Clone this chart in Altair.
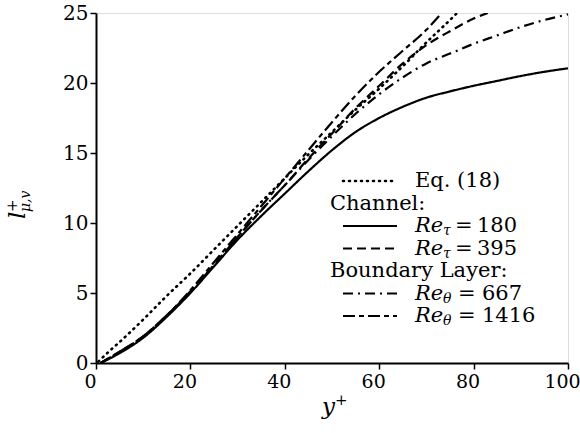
import altair as alt
import pandas as pd

# ---- data ----
eq18_x = [0.5, 3, 5, 10, 15, 20, 25, 30, 35, 40, 45, 50, 55, 60, 65, 70, 75, 76.5]
eq18_y = [0.1, 0.9, 1.5, 3.1, 4.8, 6.4, 8.1, 9.8, 11.5, 13.2, 14.9, 16.5, 18.1, 19.6, 21.2, 22.9, 24.5, 25.0]

re180_x = [1, 5, 10, 15, 20, 25, 30, 35, 40, 45, 50, 55, 60, 65, 70, 75, 80, 85, 90, 95, 100]
re180_y = [0, 0.7, 1.8, 3.3, 5.0, 6.9, 8.8, 10.5, 12.1, 13.7, 15.2, 16.5, 17.5, 18.3, 18.95, 19.4, 19.8, 20.15, 20.5, 20.8, 21.05]

re395_x = [1, 5, 10, 15, 20, 25, 30, 35, 40, 45, 50, 55, 60, 65, 70, 75, 80, 83]
re395_y = [0, 0.8, 1.9, 3.4, 5.1, 7.0, 9.0, 10.9, 12.7, 14.6, 16.4, 18.2, 19.8, 21.4, 22.7, 23.7, 24.6, 25.0]

re667_x = [1, 5, 10, 15, 20, 25, 30, 35, 40, 45, 50, 55, 60, 65, 70, 75, 80, 85, 90, 95, 100]
re667_y = [0, 0.8, 1.9, 3.4, 5.1, 7.0, 9.0, 10.9, 12.7, 14.5, 16.2, 17.8, 19.2, 20.4, 21.4, 22.1, 22.8, 23.4, 24.0, 24.5, 24.9]

re1416_x = [1, 5, 10, 15, 20, 25, 30, 35, 40, 45, 50, 55, 60, 65, 70, 73]
re1416_y = [0, 0.8, 1.9, 3.4, 5.2, 7.2, 9.2, 11.2, 13.2, 15.2, 17.2, 19.1, 20.8, 22.3, 23.8, 24.9]

x_ticks = [0, 20, 40, 60, 80, 100]
y_ticks = [0, 5, 10, 15, 20, 25]

# ---- layout / style ----
W, H = 472, 350
TICK_FONT = "DejaVu Serif"
LEG_FONT = "DejaVu Serif"
LEG_SIZE = 21

styles = {
    "eq18": dict(dash=[1, 5], cap="round", width=2.6),
    "re180": dict(dash=[1, 0], cap="butt", width=2.2),
    "re395": dict(dash=[9, 5], cap="butt", width=2.2),
    "re667": dict(dash=[10, 5, 2, 5], cap="butt", width=2.2),
    "re1416": dict(dash=[12, 4, 5, 4], cap="butt", width=2.2),
}

series = {
    "eq18": (eq18_x, eq18_y),
    "re180": (re180_x, re180_y),
    "re395": (re395_x, re395_y),
    "re667": (re667_x, re667_y),
    "re1416": (re1416_x, re1416_y),
}

x_enc = alt.X(
    "x:Q",
    scale=alt.Scale(domain=[0, 100], nice=False, zero=False),
    axis=alt.Axis(values=x_ticks, title=None, grid=False, domainColor="black",
                  domainWidth=2, tickColor="black", tickWidth=1.5, tickSize=6,
                  labelFont=TICK_FONT, labelFontSize=19, labelColor="black",
                  labelPadding=3, labelFlush=False, labelOffset=-6),
)
y_enc = alt.Y(
    "y:Q",
    scale=alt.Scale(domain=[0, 25], nice=False),
    axis=alt.Axis(values=y_ticks, title=None, grid=False, domainColor="black",
                  domainWidth=2, tickColor="black", tickWidth=1.5, tickSize=6,
                  labelFont=TICK_FONT, labelFontSize=20, labelColor="black",
                  labelPadding=2),
)

layers = []
for key, (xs, ys) in series.items():
    st = styles[key]
    df = pd.DataFrame({"x": xs, "y": ys})
    layers.append(
        alt.Chart(df).mark_line(
            color="black", strokeWidth=st["width"], strokeDash=st["dash"],
            strokeCap=st["cap"], interpolate="monotone", clip=True,
        ).encode(x=x_enc, y=y_enc)
    )

one = pd.DataFrame({"a": [0]})


def txt(text, x, y, size=LEG_SIZE, style="normal", font=LEG_FONT, angle=0):
    return alt.Chart(one).mark_text(
        text=text, align="left", baseline="alphabetic", font=font,
        fontSize=size, fontStyle=style, color="black", angle=angle,
    ).encode(x=alt.value(x), y=alt.value(y))


def sample(key, y):
    st = styles[key]
    return alt.Chart(one).mark_rule(
        color="black", strokeWidth=st["width"], strokeDash=st["dash"], strokeCap=st["cap"]
    ).encode(x=alt.value(247), x2=alt.value(301), y=alt.value(y))


def entry(sub, eq_x, num_x, value, row):
    return [
        txt("Re", 319, row, style="italic"),
        txt(sub, 347, row + 3, size=14, style="italic"),
        txt("=", eq_x, row),
        txt(value, num_x, row),
    ]


# legend rows (baselines, plot-relative pixels)
rows = [174, 196.5, 219, 241.5, 264, 286.5, 309]
legend = (
    [sample("eq18", rows[0] - 6), txt("Eq. (18)", 319, rows[0]),
     txt("Channel:", 234, rows[1])]
    + [sample("re180", rows[2] - 6)] + entry("τ", 359, 381, "180", rows[2])
    + [sample("re395", rows[3] - 6)] + entry("τ", 359, 381, "395", rows[3])
    + [txt("Boundary Layer:", 234, rows[4])]
    + [sample("re667", rows[5] - 6)] + entry("θ", 362, 386, "667", rows[5])
    + [sample("re1416", rows[6] - 6)] + entry("θ", 362, 386, "1416", rows[6])
)

# axis titles
titles = [
    txt("y", 226, 401, size=23, style="italic"),
    txt("+", 239, 392, size=15),
    txt("l", -71, 206, size=23, style="italic", angle=270),
    txt("+", -79, 199, size=15, angle=270),
    txt("μ,v", -66, 199, size=14, style="italic", angle=270),
]

chart = alt.layer(*layers, *legend, *titles).properties(
    width=W, height=H,
    autosize=alt.AutoSizeParams(type="none"),
    padding={"left": 96, "top": 13, "right": 12, "bottom": 70},
).configure_view(stroke="black", strokeWidth=2).configure(background="white")

chart.save("out.html", embed_options={"renderer": "svg", "actions": False})
